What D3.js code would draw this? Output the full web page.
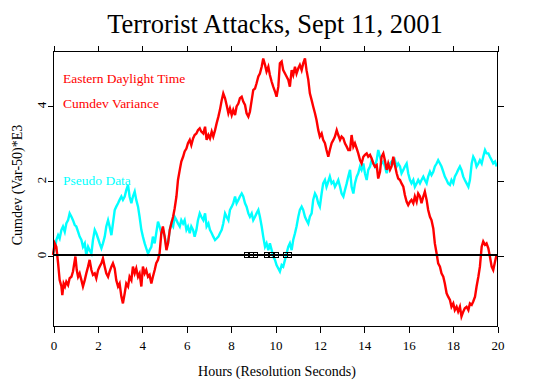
<!DOCTYPE html>
<html>
<head>
<meta charset="utf-8">
<script src="https://cdn.jsdelivr.net/npm/d3@7"></script>
<style>
  html, body { margin: 0; padding: 0; background: #fff; }
  svg { display: block; }
</style>
</head>
<body>
<svg id="chart" width="552" height="382"></svg>
<script>
// ---- data (hours, cumdev*1e3) ----
const title = "Terrorist Attacks, Sept 11, 2001";
const xLabel = "Hours (Resolution Seconds)";
const yLabel = "Cumdev (Var-50)*E3";
const xTicks = [0, 2, 4, 6, 8, 10, 12, 14, 16, 18, 20];
const yTicks = [0, 2, 4];
const legendLines = ["Eastern Daylight Time", "Cumdev Variance"];
const pseudoLabel = "Pseudo Data";
const eventHours = [8.72, 8.92, 9.12, 9.62, 9.83, 10.05, 10.46, 10.64];

const redSeries = [
[0,0],[0.08,0.31],[0.15,0.22],[0.23,-0.22],[0.30,-0.67],[0.38,-0.84],[0.42,-1.07],[0.48,-0.76],[0.54,-0.84],[0.60,-0.71],
[0.68,-0.80],[0.75,-0.62],[0.83,-0.58],[0.90,-0.44],[0.96,-0.22],[1.01,-0.04],[1.07,-0.40],[1.13,-0.58],[1.20,-0.49],[1.28,-0.67],
[1.35,-0.84],[1.43,-0.67],[1.50,-0.49],[1.58,-0.31],[1.65,-0.13],[1.73,-0.40],[1.80,-0.53],[1.88,-0.49],[1.95,-0.62],[2.03,-0.40],
[2.10,-0.31],[2.18,-0.22],[2.25,-0.09],[2.33,-0.31],[2.40,-0.49],[2.48,-0.58],[2.55,-0.44],[2.63,-0.31],[2.70,-0.22],[2.78,-0.36],
[2.85,-0.67],[2.93,-0.84],[3.00,-0.76],[3.08,-1.11],[3.15,-1.29],[3.23,-1.02],[3.30,-0.76],[3.38,-0.84],[3.45,-0.58],[3.53,-0.67],
[3.60,-0.31],[3.68,-0.49],[3.75,-0.36],[3.83,-0.58],[3.90,-0.49],[3.98,-0.84],[4.05,-0.31],[4.13,-0.49],[4.20,-0.40],[4.28,-0.58],
[4.35,-0.53],[4.43,-0.76],[4.50,-0.58],[4.58,-0.40],[4.65,-0.22],[4.73,-0.13],[4.80,0.04],[4.88,0.58],[4.95,0.76],[5.03,0.49],
[5.11,0.13],[5.18,0.31],[5.26,0.67],[5.33,0.84],[5.41,1.02],[5.48,1.24],[5.56,1.56],[5.63,2.0],[5.71,2.27],[5.78,2.49],
[5.86,2.62],[5.93,2.76],[6.01,2.84],[6.08,2.98],[6.16,3.07],[6.23,2.93],[6.31,3.11],[6.38,3.2],[6.46,3.24],[6.53,3.33],
[6.61,3.38],[6.68,3.29],[6.77,3.24],[6.85,3.42],[6.92,3.07],[7.0,3.2],[7.07,3.11],[7.15,3.29],[7.22,3.16],[7.30,3.33],
[7.37,3.51],[7.45,3.69],[7.52,3.87],[7.60,4.13],[7.67,4.31],[7.75,4.18],[7.82,4.0],[7.90,3.78],[7.97,3.91],[8.05,3.73],
[8.12,3.87],[8.20,3.73],[8.27,3.96],[8.35,4.04],[8.42,4.18],[8.50,4.22],[8.57,4.09],[8.65,4.0],[8.72,3.78],[8.80,3.69],
[8.87,3.82],[8.95,4.13],[9.02,4.4],[9.10,4.44],[9.17,4.58],[9.25,4.76],[9.32,4.84],[9.40,5.02],[9.47,5.24],[9.55,5.07],
[9.62,4.89],[9.70,5.02],[9.77,4.8],[9.85,4.62],[9.92,4.49],[10.0,4.36],[10.07,4.22],[10.15,4.49],[10.22,5.11],[10.30,5.16],
[10.37,4.93],[10.45,4.84],[10.52,4.76],[10.60,4.67],[10.67,4.49],[10.75,4.93],[10.82,4.8],[10.90,5.02],[10.97,4.84],[11.05,4.98],
[11.12,5.07],[11.20,4.93],[11.27,5.11],[11.35,5.24],[11.42,4.93],[11.50,4.67],[11.57,4.31],[11.65,4.13],[11.72,3.96],[11.80,3.78],
[11.87,3.6],[11.95,3.33],[12.02,3.16],[12.10,3.24],[12.17,3.07],[12.25,2.98],[12.32,2.8],[12.40,2.62],[12.47,2.8],[12.55,2.98],
[12.63,3.07],[12.70,3.16],[12.78,3.33],[12.85,3.2],[12.93,3.07],[13.0,3.16],[13.08,3.11],[13.15,2.98],[13.23,2.89],[13.30,2.8],
[13.38,2.8],[13.45,3.2],[13.53,2.89],[13.60,2.98],[13.68,2.84],[13.75,2.71],[13.83,2.53],[13.90,2.44],[13.98,2.62],[14.05,2.67],
[14.13,2.71],[14.20,2.62],[14.28,2.67],[14.35,2.58],[14.43,2.44],[14.50,2.36],[14.58,2.4],[14.65,2.04],[14.73,2.22],[14.80,2.62],
[14.88,2.71],[14.95,2.53],[15.03,2.27],[15.10,2.44],[15.18,2.27],[15.25,2.36],[15.33,2.62],[15.40,2.4],[15.48,2.18],[15.55,2.04],
[15.63,2.0],[15.70,1.91],[15.78,1.82],[15.85,1.6],[15.93,1.42],[16.0,1.33],[16.08,1.42],[16.15,1.47],[16.23,1.38],[16.30,1.56],
[16.38,1.42],[16.45,1.64],[16.53,1.56],[16.60,1.38],[16.68,1.56],[16.75,1.69],[16.83,1.47],[16.90,1.2],[16.98,1.02],[17.05,0.93],
[17.13,0.71],[17.20,0.31],[17.28,0.04],[17.35,-0.22],[17.43,-0.31],[17.50,-0.49],[17.58,-0.58],[17.65,-0.76],[17.73,-1.02],[17.80,-1.11],
[17.88,-1.2],[17.95,-1.38],[18.03,-1.29],[18.10,-1.47],[18.18,-1.38],[18.25,-1.51],[18.33,-1.38],[18.40,-1.64],[18.48,-1.51],[18.55,-1.42],
[18.63,-1.38],[18.71,-1.47],[18.78,-1.29],[18.86,-1.33],[18.93,-1.24],[19.01,-1.11],[19.08,-0.84],[19.16,-0.58],[19.23,-0.31],[19.31,0.22],
[19.38,0.36],[19.46,0.27],[19.53,0.31],[19.61,0.18],[19.68,-0.04],[19.76,-0.31],[19.83,-0.4],[19.91,-0.18],[19.98,0.0]
];

const cyanSeries = [
[0,0.04],[0.08,0.13],[0.15,0.4],[0.23,0.53],[0.30,0.44],[0.38,0.67],[0.45,0.76],[0.53,0.62],[0.60,0.84],[0.68,0.93],
[0.75,1.11],[0.83,1.02],[0.90,0.93],[0.98,0.8],[1.05,0.76],[1.13,0.62],[1.20,0.49],[1.28,0.4],[1.35,0.22],[1.43,0.31],
[1.50,0.0],[1.58,0.22],[1.65,0.13],[1.73,0.04],[1.80,0.4],[1.88,0.67],[1.95,0.58],[2.03,0.44],[2.10,0.31],[2.18,0.18],
[2.25,0.31],[2.33,0.49],[2.40,0.76],[2.48,0.93],[2.55,0.76],[2.63,0.53],[2.70,0.84],[2.78,1.2],[2.85,1.29],[2.93,1.38],
[3.00,1.47],[3.08,1.56],[3.15,1.47],[3.23,1.56],[3.30,1.73],[3.38,1.87],[3.45,1.56],[3.53,1.38],[3.60,1.56],[3.68,1.69],
[3.75,1.47],[3.83,1.29],[3.90,1.02],[3.98,0.67],[4.05,0.49],[4.13,0.31],[4.20,0.18],[4.28,0.04],[4.35,0.13],[4.43,0.22],
[4.50,0.49],[4.58,0.31],[4.65,0.58],[4.73,0.89],[4.80,0.76],[4.88,0.58],[4.95,0.67],[5.03,0.49],[5.11,0.22],[5.18,0.31],
[5.26,0.67],[5.33,0.84],[5.41,0.76],[5.48,1.02],[5.56,0.93],[5.63,0.84],[5.71,0.76],[5.78,0.93],[5.86,0.84],[5.93,0.93],
[6.01,0.67],[6.08,0.76],[6.16,0.58],[6.23,0.76],[6.31,0.67],[6.38,0.49],[6.46,0.67],[6.53,0.93],[6.61,1.11],[6.68,1.02],
[6.77,0.93],[6.85,1.11],[6.92,0.76],[7.0,0.84],[7.07,0.67],[7.15,0.58],[7.22,0.49],[7.30,0.4],[7.37,0.44],[7.45,0.49],
[7.52,0.58],[7.60,0.67],[7.67,0.84],[7.75,1.11],[7.82,1.02],[7.90,0.93],[7.97,1.2],[8.05,1.29],[8.12,1.38],[8.20,1.56],
[8.27,1.38],[8.35,1.47],[8.42,1.56],[8.50,1.64],[8.57,1.56],[8.65,1.38],[8.72,1.29],[8.80,1.11],[8.87,1.02],[8.95,1.11],
[9.02,0.93],[9.10,1.02],[9.17,1.11],[9.25,1.2],[9.32,1.02],[9.40,0.76],[9.47,0.49],[9.55,0.22],[9.62,0.31],[9.70,0.13],
[9.77,0.31],[9.85,0.13],[9.92,-0.04],[10.0,-0.13],[10.07,-0.27],[10.15,-0.36],[10.22,-0.44],[10.30,-0.27],[10.37,-0.31],[10.45,-0.13],
[10.52,0.04],[10.60,0.22],[10.67,0.31],[10.75,0.13],[10.82,0.4],[10.90,0.58],[10.97,0.76],[11.05,1.02],[11.12,1.2],[11.20,1.29],
[11.27,1.2],[11.35,1.02],[11.42,0.93],[11.50,0.84],[11.57,1.02],[11.65,1.11],[11.72,1.47],[11.80,1.64],[11.87,1.56],[11.95,1.38],
[12.02,1.29],[12.10,1.64],[12.17,1.91],[12.25,2.0],[12.32,1.82],[12.40,1.96],[12.47,2.09],[12.55,1.91],[12.63,1.96],[12.70,1.82],
[12.78,1.91],[12.85,2.0],[12.93,1.82],[13.0,1.64],[13.08,1.56],[13.15,1.73],[13.23,1.91],[13.30,2.09],[13.38,2.27],[13.45,1.82],
[13.53,1.64],[13.60,1.91],[13.68,2.09],[13.75,2.18],[13.83,2.36],[13.90,2.27],[13.98,2.44],[14.05,2.18],[14.13,2.0],[14.20,2.27],
[14.28,2.36],[14.35,2.53],[14.43,2.44],[14.50,2.36],[14.58,2.53],[14.65,2.8],[14.73,2.62],[14.80,2.44],[14.88,2.49],[14.95,2.36],
[15.03,2.18],[15.10,2.36],[15.18,2.44],[15.25,2.49],[15.33,2.44],[15.40,2.53],[15.48,2.36],[15.55,2.44],[15.63,2.36],[15.70,2.18],
[15.78,2.27],[15.85,2.36],[15.93,2.44],[16.0,2.18],[16.08,2.0],[16.15,1.91],[16.23,2.0],[16.30,1.82],[16.38,1.91],[16.45,2.0],
[16.53,1.91],[16.60,2.0],[16.68,2.09],[16.75,2.0],[16.83,1.91],[16.90,2.09],[16.98,2.22],[17.05,2.13],[17.13,2.22],[17.20,2.36],
[17.28,2.44],[17.35,2.53],[17.43,2.44],[17.50,2.36],[17.58,2.22],[17.65,2.09],[17.73,2.0],[17.80,1.91],[17.88,1.87],[17.95,2.0],
[18.03,1.91],[18.10,2.09],[18.18,2.18],[18.25,2.27],[18.33,2.36],[18.40,2.27],[18.48,2.09],[18.55,2.0],[18.63,1.91],[18.71,1.82],
[18.78,2.0],[18.86,2.44],[18.93,2.62],[19.01,2.53],[19.08,2.36],[19.16,2.44],[19.23,2.53],[19.31,2.44],[19.38,2.62],[19.46,2.8],
[19.53,2.71],[19.61,2.71],[19.68,2.62],[19.76,2.53],[19.83,2.44],[19.91,2.49],[19.98,2.36]
];

// ---- layout ----
const svg = d3.select("#chart");
const L = 53, R = 497, T = 51, B = 326;
const x = d3.scaleLinear().domain([0, 20]).range([L, R]);
const y = d3.scaleLinear().domain([-1.893, 5.44]).range([B, T]);

const red = "#ff0000", cyan = "#00ffff";
const serif = '"Liberation Serif", "Times New Roman", serif';

// title
svg.append("text").attr("x", 275).attr("y", 33).attr("text-anchor", "middle")
  .style("font-family", serif).attr("font-size", 26.5).attr("fill", "#000").text(title);

// data lines
const line = d3.line().x(d => x(d[0])).y(d => y(d[1]));
svg.append("path").datum(cyanSeries).attr("d", line)
  .attr("fill", "none").attr("stroke", cyan).attr("stroke-width", 2.4).attr("stroke-linejoin", "miter");
svg.append("path").datum(redSeries).attr("d", line)
  .attr("fill", "none").attr("stroke", red).attr("stroke-width", 2.4).attr("stroke-linejoin", "miter");

// zero line
svg.append("line").attr("x1", x(0)).attr("x2", x(20)).attr("y1", y(0)).attr("y2", y(0))
  .attr("stroke", "#000").attr("stroke-width", 2.2);

// event squares
svg.append("g").selectAll("rect").data(eventHours).join("rect")
  .attr("x", d => x(d) - 2).attr("y", y(0) - 2.5).attr("width", 4.2).attr("height", 5)
  .attr("fill", "none").attr("stroke", "#000").attr("stroke-width", 1)
  .attr("shape-rendering", "crispEdges");

// frame
svg.append("rect").attr("x", L + 0.5).attr("y", T + 0.5).attr("width", R - L).attr("height", B - T)
  .attr("fill", "none").attr("stroke", "#000").attr("stroke-width", 1).attr("shape-rendering", "crispEdges");

// axes
const axB = d3.axisBottom(x).tickValues(xTicks).tickSize(6).tickPadding(8).tickFormat(d3.format("d"));
const axT = d3.axisTop(x).tickValues(xTicks).tickSize(6).tickFormat("");
const axL = d3.axisLeft(y).tickValues(yTicks).tickSize(6).tickFormat("");
const axR = d3.axisRight(y).tickValues(yTicks).tickSize(6).tickFormat("");

function styleAxis(g) {
  g.select(".domain").remove();
  g.attr("font-family", null);
  g.selectAll("line").attr("stroke", "#000").attr("shape-rendering", "crispEdges");
}
const gB = svg.append("g").attr("transform", `translate(0.5,${B + 0.5})`).call(axB).call(styleAxis);
gB.selectAll("text").style("font-family", serif).attr("font-size", 13).attr("fill", "#000");
svg.append("g").attr("transform", `translate(0.5,${T + 0.5})`).call(axT).call(styleAxis);
svg.append("g").attr("transform", `translate(${L + 0.5},0.5)`).call(axL).call(styleAxis);
svg.append("g").attr("transform", `translate(${R + 0.5},0.5)`).call(axR).call(styleAxis);

// y tick labels (rotated)
svg.append("g").selectAll("text").data(yTicks).join("text")
  .attr("transform", d => `translate(46,${y(d)}) rotate(-90)`)
  .attr("text-anchor", "middle").style("font-family", serif).attr("font-size", 13).attr("fill", "#000")
  .text(d => d);

// axis titles
svg.append("text").attr("x", 277).attr("y", 376).attr("text-anchor", "middle")
  .style("font-family", serif).attr("font-size", 14).attr("fill", "#000").text(xLabel);
svg.append("text").attr("transform", `translate(22,185) rotate(-90)`).attr("text-anchor", "middle")
  .style("font-family", serif).attr("font-size", 14).attr("fill", "#000").text(yLabel);

// in-plot labels
svg.append("g").selectAll("text").data(legendLines).join("text")
  .attr("x", 63).attr("y", (d, i) => 83 + i * 25)
  .style("font-family", serif).attr("font-size", 13.5).attr("fill", red).text(d => d);
svg.append("text").attr("x", 63).attr("y", 185).style("font-family", serif)
  .attr("font-size", 13.5).attr("fill", cyan).text(pseudoLabel);
</script>
</body>
</html>
